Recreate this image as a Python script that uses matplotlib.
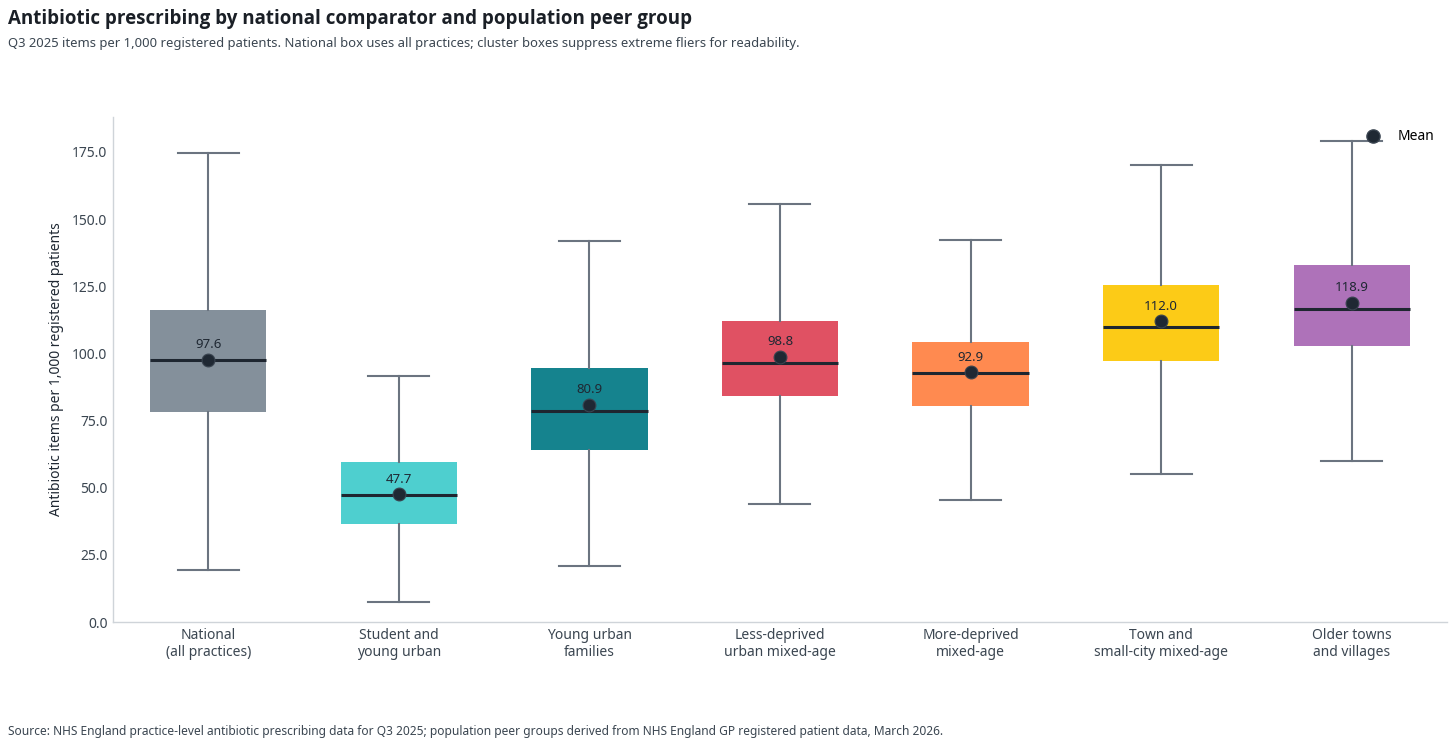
import matplotlib
matplotlib.use("Agg")
import matplotlib.pyplot as plt
from matplotlib.lines import Line2D

plt.rcParams['font.family'] = ['Noto Sans', 'DejaVu Sans']

# group labels and precomputed box statistics (items per 1,000 patients)
groups = ["National\n(all practices)", "Student and\nyoung urban", "Young urban\nfamilies",
          "Less-deprived\nurban mixed-age", "More-deprived\nmixed-age",
          "Town and\nsmall-city mixed-age", "Older towns\nand villages"]
whislo = [19.4, 7.4, 20.8, 43.9, 45.4, 55.1, 59.9]
q1     = [78.2, 36.5, 64.0, 84.1, 80.4, 97.2, 102.8]
median = [97.7, 47.3, 78.4, 96.4, 92.8, 109.7, 116.5]
q3     = [116.2, 59.6, 94.6, 112.1, 104.2, 125.5, 132.9]
whishi = [174.6, 91.6, 141.8, 155.6, 142.2, 170.1, 179.1]
means  = [97.6, 47.7, 80.9, 98.8, 92.9, 112.0, 118.9]
colors = ["#84909b", "#4ecfcf", "#15838e", "#e05163", "#ff8a50", "#fccb17", "#ae72b9"]

stats = []
for i in range(len(groups)):
    stats.append(dict(whislo=whislo[i], q1=q1[i], med=median[i], q3=q3[i],
                      whishi=whishi[i], fliers=[], label=groups[i]))

fig = plt.figure(figsize=(14.56, 7.47), dpi=100)
ax = fig.add_axes([0.0776, 0.1673, 0.9162, 0.6761])

pos = list(range(len(groups)))
bp = ax.bxp(stats, positions=pos, widths=0.61, patch_artist=True, showfliers=False,
            capwidths=0.32,
            whiskerprops=dict(color="#6b7480", linewidth=1.5),
            capprops=dict(color="#6b7480", linewidth=1.5),
            medianprops=dict(color="#1e2630", linewidth=2.2),
            boxprops=dict(linewidth=0))
for patch, c in zip(bp["boxes"], colors):
    patch.set_facecolor(c)
    patch.set_edgecolor(c)

ax.scatter(pos, means, s=85, color="#1f2833", edgecolor="#3a4450", linewidth=0.8, zorder=5)
for x, m in zip(pos, means):
    ax.annotate(f"{m:.1f}", (x, m), xytext=(0, 6), textcoords="offset points",
                ha="center", va="bottom", fontsize=9.5, color="#1f2833", zorder=6)

ax.set_xlim(-0.5, 6.5)
ax.set_ylim(0, 188)
ax.set_yticks([0, 25, 50, 75, 100, 125, 150, 175])
ax.set_yticklabels([f"{v:.1f}" for v in [0, 25, 50, 75, 100, 125, 150, 175]])
ax.set_xticks(pos)
ax.set_xticklabels(groups)
ax.tick_params(axis="both", length=0, labelsize=10, labelcolor="#3b4651", pad=4)
ax.set_ylabel("Antibiotic items per 1,000 registered patients", fontsize=10,
              color="#1f2833", labelpad=6)
for s in ["top", "right"]:
    ax.spines[s].set_visible(False)
for s in ["left", "bottom"]:
    ax.spines[s].set_color("#cfd4d9")
    ax.spines[s].set_linewidth(1)

handle = Line2D([], [], marker="o", linestyle="none", markersize=9.5,
                markerfacecolor="#1f2833", markeredgecolor="#3a4450")
ax.legend([handle], ["Mean"], loc="upper right", frameon=False, fontsize=10,
          bbox_to_anchor=(1.0, 1.0), handletextpad=0.8)

fig.text(0.0055, 0.988, "Antibiotic prescribing by national comparator and population peer group",
         fontsize=13.5, fontweight="bold", family=["Open Sans", "DejaVu Sans"],
         color="#1a1f26", va="top")
fig.text(0.0055, 0.950, "Q3 2025 items per 1,000 registered patients. National box uses all practices; "
         "cluster boxes suppress extreme fliers for readability.",
         fontsize=9.4, color="#3b4651", va="top")
fig.text(0.0055, 0.012, "Source: NHS England practice-level antibiotic prescribing data for Q3 2025; "
         "population peer groups derived from NHS England GP registered patient data, March 2026.",
         fontsize=8.6, color="#3b4651", va="bottom")

fig.savefig("out.png", dpi=100)
